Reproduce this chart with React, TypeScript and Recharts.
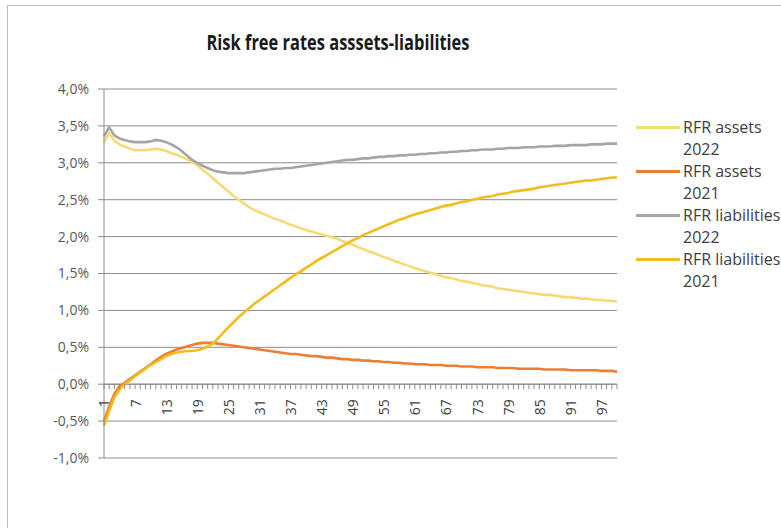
import React from "react";
import { ComposedChart, Line, XAxis, YAxis, CartesianGrid, ReferenceLine } from "recharts";

const categories: number[] = Array.from({ length: 100 }, (_, i) => i + 1);

const rfrAssets2022: number[] = [
  3.28, 3.40, 3.30, 3.25, 3.22, 3.19, 3.17, 3.17, 3.17, 3.18,
  3.19, 3.18, 3.16, 3.13, 3.11, 3.08, 3.05, 3.01, 2.96, 2.91,
  2.85, 2.79, 2.73, 2.67, 2.61, 2.55, 2.50, 2.45, 2.40, 2.36,
  2.33, 2.30, 2.27, 2.24, 2.22, 2.19, 2.16, 2.14, 2.11, 2.09,
  2.07, 2.05, 2.03, 2.01, 1.99, 1.97, 1.94, 1.91, 1.89, 1.86,
  1.83, 1.80, 1.78, 1.75, 1.72, 1.70, 1.67, 1.65, 1.62, 1.60,
  1.57, 1.55, 1.53, 1.51, 1.49, 1.47, 1.45, 1.44, 1.42, 1.40,
  1.39, 1.37, 1.36, 1.34, 1.33, 1.32, 1.30, 1.29, 1.28, 1.27,
  1.26, 1.25, 1.24, 1.23, 1.22, 1.21, 1.21, 1.20, 1.19, 1.18,
  1.18, 1.17, 1.16, 1.16, 1.15, 1.14, 1.14, 1.13, 1.13, 1.12,
];

const rfrAssets2021: number[] = [
  -0.50, -0.30, -0.13, -0.03, 0.02, 0.07, 0.12, 0.17, 0.22, 0.27,
  0.32, 0.37, 0.41, 0.44, 0.47, 0.49, 0.51, 0.53, 0.55, 0.56,
  0.56, 0.56, 0.55, 0.54, 0.53, 0.52, 0.51, 0.50, 0.49, 0.48,
  0.47, 0.46, 0.45, 0.44, 0.43, 0.42, 0.41, 0.41, 0.40, 0.39,
  0.38, 0.38, 0.37, 0.36, 0.36, 0.35, 0.34, 0.34, 0.33, 0.33,
  0.32, 0.32, 0.31, 0.31, 0.30, 0.30, 0.29, 0.29, 0.28, 0.28,
  0.27, 0.27, 0.27, 0.26, 0.26, 0.26, 0.25, 0.25, 0.25, 0.24,
  0.24, 0.24, 0.23, 0.23, 0.23, 0.23, 0.22, 0.22, 0.22, 0.22,
  0.21, 0.21, 0.21, 0.21, 0.21, 0.20, 0.20, 0.20, 0.20, 0.20,
  0.19, 0.19, 0.19, 0.19, 0.19, 0.19, 0.18, 0.18, 0.18, 0.17,
];

const rfrLiabilities2022: number[] = [
  3.36, 3.48, 3.37, 3.33, 3.31, 3.29, 3.28, 3.28, 3.28, 3.29,
  3.31, 3.30, 3.28, 3.25, 3.21, 3.16, 3.10, 3.04, 3.00, 2.96,
  2.93, 2.90, 2.88, 2.87, 2.86, 2.86, 2.86, 2.86, 2.87, 2.88,
  2.89, 2.90, 2.91, 2.92, 2.92, 2.93, 2.93, 2.94, 2.95, 2.96,
  2.97, 2.98, 2.99, 3.00, 3.01, 3.02, 3.03, 3.04, 3.04, 3.05,
  3.06, 3.06, 3.07, 3.08, 3.08, 3.09, 3.09, 3.10, 3.10, 3.11,
  3.11, 3.12, 3.12, 3.13, 3.13, 3.14, 3.14, 3.15, 3.15, 3.16,
  3.16, 3.17, 3.17, 3.18, 3.18, 3.18, 3.19, 3.19, 3.20, 3.20,
  3.20, 3.21, 3.21, 3.21, 3.22, 3.22, 3.22, 3.23, 3.23, 3.23,
  3.24, 3.24, 3.24, 3.24, 3.25, 3.25, 3.25, 3.26, 3.26, 3.26,
];

const rfrLiabilities2021: number[] = [
  -0.56, -0.36, -0.18, -0.07, 0.00, 0.05, 0.11, 0.16, 0.21, 0.26,
  0.30, 0.34, 0.38, 0.41, 0.43, 0.44, 0.45, 0.45, 0.46, 0.48,
  0.51, 0.55, 0.62, 0.70, 0.77, 0.84, 0.91, 0.97, 1.03, 1.09,
  1.14, 1.19, 1.24, 1.29, 1.34, 1.39, 1.44, 1.49, 1.53, 1.58,
  1.62, 1.67, 1.71, 1.75, 1.79, 1.83, 1.87, 1.91, 1.95, 1.98,
  2.02, 2.05, 2.08, 2.11, 2.14, 2.17, 2.20, 2.23, 2.25, 2.28,
  2.30, 2.32, 2.34, 2.36, 2.38, 2.40, 2.42, 2.43, 2.45, 2.47,
  2.48, 2.50, 2.51, 2.53, 2.54, 2.55, 2.57, 2.58, 2.59, 2.61,
  2.62, 2.63, 2.64, 2.65, 2.67, 2.68, 2.69, 2.70, 2.71, 2.72,
  2.73, 2.74, 2.75, 2.76, 2.76, 2.77, 2.78, 2.79, 2.80, 2.80,
];

const yTicks: number[] = [-1, -0.5, 0, 0.5, 1, 1.5, 2, 2.5, 3, 3.5, 4];

const seriesNames: string[] = ["RFR assets 2022", "RFR assets 2021", "RFR liabilities 2022", "RFR liabilities 2021"];
const seriesKeys: string[] = ["a22", "a21", "l22", "l21"];
const seriesColors: string[] = ["#F5DB74", "#ED7D31", "#A5A5A5", "#F2BC1B"];

const data = categories.map((cat, i) => ({
  cat,
  a22: rfrAssets2022[i],
  a21: rfrAssets2021[i],
  l22: rfrLiabilities2022[i],
  l21: rfrLiabilities2021[i],
  axis: 0,
}));

const FONT = "'Open Sans', 'Noto Sans', sans-serif";
const GRID = "#8C8C8C";

const fmt = (v: number) => v.toFixed(1).replace(".", ",") + "%";

const AxisTick = (props: any) => {
  const { cx, cy, index, payload } = props;
  if (cx == null || cy == null) return <g key={`t${index}`} />;
  const showLabel = index % 6 === 0;
  return (
    <g key={`t${index}`}>
      <line x1={cx} y1={cy} x2={cx} y2={cy + 5} stroke={GRID} strokeWidth={1} />
      {showLabel && (
        <text
          x={cx}
          y={cy + 15}
          transform={`rotate(-90, ${cx}, ${cy + 15})`}
          textAnchor="end"
          dominantBaseline="central"
          fontFamily={FONT}
          fontSize={14}
          fill="#404040"
        >
          {payload.cat}
        </text>
      )}
    </g>
  );
};

export default function App() {
  return (
    <div style={{ position: "fixed", left: 0, top: 0, width: 781, height: 528, overflow: "hidden", background: "#fff" }}>
      <div style={{ position: "absolute", left: 7, top: 5, width: 820, height: 600, border: "1px solid #BDBDBD" }} />
      <svg style={{ position: "absolute", left: 0, top: 0 }} width={781} height={70}>
        <text
          x={338}
          y={50}
          textAnchor="middle"
          fontFamily={FONT}
          fontWeight={700}
          fontSize={21}
          fill="#1a1a1a"
          textLength={263}
          lengthAdjust="spacingAndGlyphs"
        >
          Risk free rates asssets-liabilities
        </text>
      </svg>
      <div style={{ position: "absolute", left: 0, top: 0 }}>
        <ComposedChart width={781} height={528} data={data} margin={{ top: 89, right: 164, bottom: 70, left: 59 }}>
          <CartesianGrid vertical={false} stroke={GRID} strokeWidth={1} />
          <XAxis dataKey="cat" type="category" hide />
          <YAxis
            type="number"
            domain={[-1, 4]}
            ticks={yTicks}
            width={45}
            tickFormatter={fmt}
            axisLine={{ stroke: GRID }}
            tickLine={{ stroke: GRID }}
            tickSize={6}
            tickMargin={9}
            tick={{ fontFamily: FONT, fontSize: 14, fill: "#595959" }}
            interval={0}
          />
          <ReferenceLine y={0} stroke={GRID} strokeWidth={1} />
          {seriesKeys.map((k, i) => (
            <Line
              key={k}
              dataKey={k}
              name={seriesNames[i]}
              type="linear"
              stroke={seriesColors[i]}
              strokeWidth={2.6}
              dot={false}
              activeDot={false}
              isAnimationActive={false}
            />
          ))}
          <Line
            dataKey="axis"
            stroke="none"
            dot={AxisTick}
            activeDot={false}
            legendType="none"
            isAnimationActive={false}
          />
        </ComposedChart>
      </div>
      {seriesNames.map((name, i) => {
        const parts = name.split(" ");
        const year = parts.pop();
        const top = 127 + 44 * i;
        return (
          <React.Fragment key={name}>
            <div style={{ position: "absolute", left: 636, top: top - 1.5, width: 44, height: 3, background: seriesColors[i] }} />
            <div
              style={{
                position: "absolute",
                left: 683,
                top: top - 11,
                fontFamily: FONT,
                fontSize: 16,
                lineHeight: "22px",
                color: "#404040",
                whiteSpace: "nowrap",
              }}
            >
              <div>{parts.join(" ")}</div>
              <div>{year}</div>
            </div>
          </React.Fragment>
        );
      })}
    </div>
  );
}
